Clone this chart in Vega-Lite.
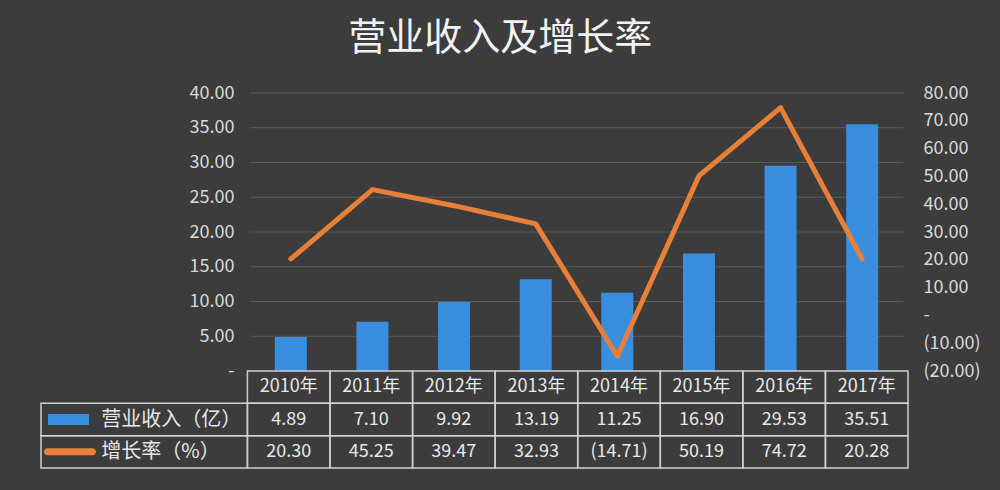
{
  "$schema": "https://vega.github.io/schema/vega-lite/v6.json",
  "background": "#3c3c3c",
  "padding": {"left": 40, "top": 20, "right": 30, "bottom": 30},
  "autosize": {"type": "pad"},
  "config": {"view": {"stroke": null}, "font": "Noto Sans CJK SC"},
  "title": {
    "text": "营业收入及增长率",
    "font": "Noto Sans CJK SC",
    "fontSize": 38,
    "fontWeight": "normal",
    "color": "#f2f2f2",
    "anchor": "middle",
    "frame": "bounds",
    "dx": -10,
    "offset": 26
  },
  "datasets": {
    "main": [
      {"year": 2010, "yearLabel": "2010年", "revenue": 4.89, "revText": "4.89", "growth": 20.30, "growthText": "20.30"},
      {"year": 2011, "yearLabel": "2011年", "revenue": 7.10, "revText": "7.10", "growth": 45.25, "growthText": "45.25"},
      {"year": 2012, "yearLabel": "2012年", "revenue": 9.92, "revText": "9.92", "growth": 39.47, "growthText": "39.47"},
      {"year": 2013, "yearLabel": "2013年", "revenue": 13.19, "revText": "13.19", "growth": 32.93, "growthText": "32.93"},
      {"year": 2014, "yearLabel": "2014年", "revenue": 11.25, "revText": "11.25", "growth": -14.71, "growthText": "(14.71)"},
      {"year": 2015, "yearLabel": "2015年", "revenue": 16.90, "revText": "16.90", "growth": 50.19, "growthText": "50.19"},
      {"year": 2016, "yearLabel": "2016年", "revenue": 29.53, "revText": "29.53", "growth": 74.72, "growthText": "74.72"},
      {"year": 2017, "yearLabel": "2017年", "revenue": 35.51, "revText": "35.51", "growth": 20.28, "growthText": "20.28"}
    ],
    "grid": [{"v": 5}, {"v": 10}, {"v": 15}, {"v": 20}, {"v": 25}, {"v": 30}, {"v": 35}, {"v": 40}],
    "legend": [
      {"key": "revText", "label": "营业收入（亿）"},
      {"key": "growthText", "label": "增长率（%）"}
    ]
  },
  "spacing": 0,
  "bounds": "flush",
  "vconcat": [
    {
      "width": 867,
      "height": 278,
      "layer": [
        {
          "encoding": {
            "y": {
              "type": "quantitative",
              "scale": {"domain": [0, 40], "nice": false, "zero": true},
              "axis": {
                "orient": "left", "offset": -207, "values": [0, 5, 10, 15, 20, 25, 30, 35, 40],
                "labelExpr": "datum.value == 0 ? '-' : format(datum.value, '.2f')",
                "ticks": false, "tickSize": 0, "domain": false, "grid": false,
                "labelPadding": 14, "labelColor": "#d9d9d9", "labelFontSize": 18,
                "labelFont": "Noto Sans CJK SC", "labelFlush": false, "labelOverlap": false, "title": null
              }
            }
          },
          "layer": [
            {
              "data": {"name": "grid"},
              "mark": {"type": "rule", "color": "#595959", "strokeWidth": 1},
              "encoding": {
                "x": {"datum": 2009.5, "type": "quantitative", "scale": {"domain": [2007, 2017.5], "nice": false, "zero": false}, "axis": null},
                "x2": {"datum": 2017.5},
                "y": {"field": "v"}
              }
            },
            {
              "data": {"name": "main"},
              "mark": {"type": "bar", "width": 32, "color": "#3a8ee0", "orient": "vertical"},
              "encoding": {
                "x": {"field": "year", "type": "quantitative"},
                "y": {"field": "revenue"}
              }
            }
          ]
        },
        {
          "data": {"name": "main"},
          "mark": {"type": "line", "color": "#e8803a", "strokeWidth": 5, "strokeJoin": "round", "strokeCap": "round"},
          "encoding": {
            "x": {"field": "year", "type": "quantitative"},
            "y": {
              "field": "growth", "type": "quantitative",
              "scale": {"domain": [-20, 80], "nice": false, "zero": false},
              "axis": {
                "orient": "right", "values": [-20, -10, 0, 10, 20, 30, 40, 50, 60, 70, 80],
                "labelExpr": "datum.value == 0 ? '-' : datum.value < 0 ? '(' + format(-datum.value, '.2f') + ')' : format(datum.value, '.2f')",
                "ticks": false, "tickSize": 0, "domain": false, "grid": false,
                "labelPadding": 15, "labelColor": "#d9d9d9", "labelFontSize": 18,
                "labelFont": "Noto Sans CJK SC", "labelFlush": false, "labelOverlap": false, "title": null
              }
            }
          }
        }
      ],
      "resolve": {"scale": {"y": "independent"}}
    },
    {
      "width": 867,
      "height": 97,
      "encoding": {
        "y": {"field": "key", "type": "nominal", "scale": {"domain": ["yearLabel", "revText", "growthText"], "paddingInner": 0, "paddingOuter": 0}, "axis": null}
      },
      "layer": [
        {
          "data": {"name": "main"},
          "transform": [{"fold": ["yearLabel", "revText", "growthText"], "as": ["key", "value"]}],
          "mark": {"type": "rect", "width": 82.571, "fill": "transparent", "stroke": "#cfcfcf", "strokeWidth": 1.5},
          "encoding": {
            "x": {"field": "year", "type": "quantitative", "scale": {"domain": [2007, 2017.5], "nice": false, "zero": false}, "axis": null}
          }
        },
        {
          "data": {"name": "main"},
          "transform": [{"fold": ["yearLabel", "revText", "growthText"], "as": ["key", "value"]}],
          "mark": {"type": "text", "color": "#e8e8e8", "fontSize": 18, "font": "Noto Sans CJK SC", "align": "center", "baseline": "middle"},
          "encoding": {
            "x": {"field": "year", "type": "quantitative"},
            "text": {"field": "value"}
          }
        },
        {
          "data": {"name": "legend"},
          "mark": {"type": "rect", "fill": "transparent", "stroke": "#cfcfcf", "strokeWidth": 1.5},
          "encoding": {"x": {"datum": 2007}, "x2": {"datum": 2009.5}}
        },
        {
          "data": {"name": "legend"},
          "mark": {"type": "text", "color": "#e8e8e8", "fontSize": 20, "font": "Noto Sans CJK SC", "align": "left", "baseline": "middle"},
          "encoding": {"x": {"datum": 2007.73}, "text": {"field": "label"}}
        },
        {
          "data": {"name": "legend"},
          "transform": [{"filter": "datum.key == 'revText'"}],
          "mark": {"type": "rect", "height": 11, "color": "#3a8ee0"},
          "encoding": {"x": {"datum": 2007.085}, "x2": {"datum": 2007.581}}
        },
        {
          "data": {"name": "legend"},
          "transform": [{"filter": "datum.key == 'growthText'"}],
          "mark": {"type": "rect", "height": 7, "cornerRadius": 3.5, "color": "#e8803a"},
          "encoding": {"x": {"datum": 2007.036}, "x2": {"datum": 2007.666}}
        }
      ]
    }
  ]
}
